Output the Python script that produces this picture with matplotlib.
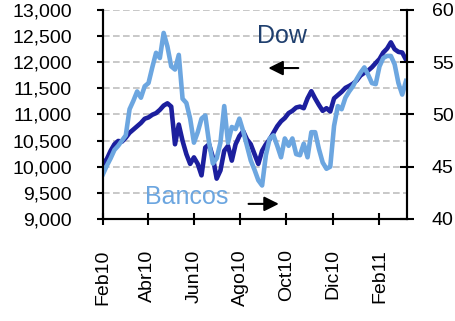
import numpy as np
import pandas as pd
import matplotlib
matplotlib.use('Agg')
import matplotlib.pyplot as plt
from matplotlib.ticker import FuncFormatter

plt.rcParams['font.family'] = ['Liberation Sans', 'DejaVu Sans']

# fechas cada 5 dias desde Feb10
DATES = pd.date_range('2010-02-01', periods=81, freq='5D')

DOW = [10053, 10147, 10304, 10429, 10492, 10480, 10555, 10649, 10711, 10774,
       10837, 10918, 10943, 10994, 11025, 11088, 11169, 11213, 11150, 10429,
       10806, 10492, 10241, 10053, 10178, 10053, 9834, 10367, 10429, 10178,
       9771, 9928, 10304, 10398, 10116, 10429, 10586, 10680, 10523, 10429,
       10241, 10053, 10304, 10429, 10523, 10649, 10774, 10868, 10931, 11025,
       11069, 11132, 11150, 11119, 11307, 11445, 11307, 11182, 11069, 11119,
       11056, 11307, 11370, 11432, 11508, 11545, 11589, 11652, 11746, 11796,
       11840, 11903, 11984, 12060, 12185, 12260, 12380, 12248, 12197, 12185,
       12047]

BANCOS = [44.3, 45.1, 45.8, 46.6, 47.0, 47.5, 48.0, 50.5, 51.3, 52.2,
          51.6, 52.7, 53.0, 54.5, 55.9, 55.4, 57.8, 56.5, 54.6, 54.3,
          55.7, 51.5, 51.1, 49.6, 47.3, 48.3, 49.6, 49.9, 47.3, 45.3,
          45.8, 47.3, 50.8, 47.3, 48.8, 48.6, 49.6, 48.4, 47.0, 45.6,
          44.7, 43.7, 43.2, 46.1, 47.7, 48.0, 47.0, 45.9, 47.7, 47.0,
          47.7, 46.2, 46.1, 47.2, 45.9, 48.3, 48.3, 46.7, 45.4, 44.8,
          45.0, 48.9, 50.8, 50.5, 51.6, 52.2, 52.7, 53.4, 54.0, 54.5,
          53.8, 53.0, 52.9, 54.6, 55.4, 55.6, 55.6, 54.8, 53.0, 51.9,
          53.2]

TICK_DATES = ['2010-02-01', '2010-04-01', '2010-06-01', '2010-08-01',
              '2010-10-01', '2010-12-01', '2011-02-01']
TICK_LABELS = ['Feb10', 'Abr10', 'Jun10', 'Ago10', 'Oct10', 'Dic10', 'Feb11']

DOW_COLOR = '#1c1f9e'
BANCOS_COLOR = '#6ca6e0'

fig = plt.figure(figsize=(4.56, 3.21), dpi=100)
ax = fig.add_axes([0.226, 0.318, 0.666, 0.651])
ax2 = ax.twinx()

ax.plot(DATES, DOW, color=DOW_COLOR, lw=3.3, solid_joinstyle='round')
ax2.plot(DATES, BANCOS, color=BANCOS_COLOR, lw=3.3, solid_joinstyle='round')

ax.set_ylim(9000, 13000)
ax.set_yticks(np.arange(9000, 13001, 500))
ax.yaxis.set_major_formatter(FuncFormatter(lambda v, p: f'{int(v):,}'))
ax2.set_ylim(40, 60)
ax2.set_yticks(np.arange(40, 61, 5))

ax.set_xlim(pd.Timestamp('2010-02-01'), pd.Timestamp('2011-03-09'))
ax.set_xticks([pd.Timestamp(d) for d in TICK_DATES])
ax.set_xticklabels(TICK_LABELS, rotation=90)

ax.grid(axis='y', color='#bfbfbf', ls=(0, (4, 2)), lw=1.2)
ax.set_axisbelow(True)

for a in (ax, ax2):
    a.spines['top'].set_visible(False)
    for s in ('left', 'right', 'bottom'):
        a.spines[s].set_linewidth(1.5)
ax.tick_params(axis='y', direction='out', length=4.5, width=1.5, labelsize=14, pad=18)
ax.tick_params(axis='x', direction='inout', length=8, width=1.5, labelsize=14, pad=18)
ax2.tick_params(axis='y', direction='inout', length=10, width=1.5, labelsize=14, pad=13)

# etiquetas y flechas
ax.text(0.589, 0.876, 'Dow', transform=ax.transAxes, fontsize=18,
        color='#1f3f6e', ha='center', va='center')
ax.annotate('', xy=(0.535, 0.722), xytext=(0.652, 0.722), xycoords='axes fraction',
            arrowprops=dict(arrowstyle='-|>', color='black', lw=1.5, mutation_scale=22))
ax.text(0.277, 0.105, 'Bancos', transform=ax.transAxes, fontsize=18,
        color=BANCOS_COLOR, ha='center', va='center')
ax.annotate('', xy=(0.588, 0.072), xytext=(0.47, 0.072), xycoords='axes fraction',
            arrowprops=dict(arrowstyle='-|>', color='black', lw=1.5, mutation_scale=22))

fig.savefig('out.png', dpi=100)
